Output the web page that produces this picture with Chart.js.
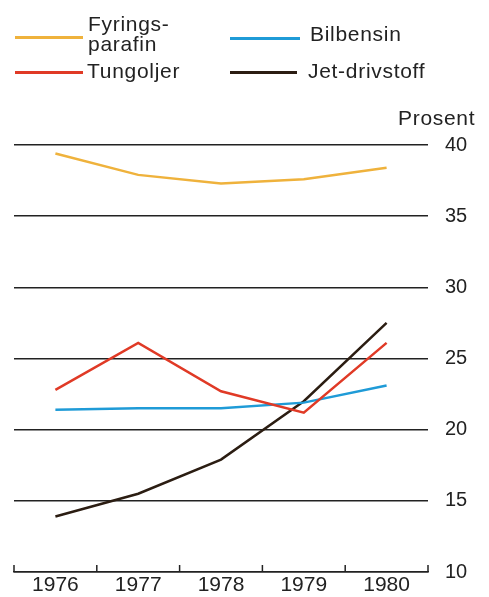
<!DOCTYPE html>
<html>
<head>
<meta charset="utf-8">
<script src="https://cdn.jsdelivr.net/npm/chart.js@4"></script>
<style>
  body { margin: 0; background: #fff; }
  #wrap { position: relative; width: 489px; height: 597px; font-family: "Liberation Sans", Arial, sans-serif; color: #222; }
  canvas { position: absolute; left: 0; top: 0; }
  .lg { position: absolute; font-size: 21px; line-height: 20px; letter-spacing: 0.7px; }
  .sw { position: absolute; height: 3px; }
</style>
</head>
<body>
<div id="wrap">
  <canvas id="myChart" width="489" height="597"></canvas>
  <!-- legend, plain html -->
  <div class="sw" style="left:15px;top:36px;width:68px;background:#efb23c"></div>
  <div class="lg" style="left:88px;top:14px">Fyrings-<br>parafin</div>
  <div class="sw" style="left:230px;top:37px;width:70px;background:#1f9bd7"></div>
  <div class="lg" style="left:310px;top:24px">Bilbensin</div>
  <div class="sw" style="left:15px;top:71px;width:68px;background:#e03a26"></div>
  <div class="lg" style="left:87px;top:61px">Tungoljer</div>
  <div class="sw" style="left:230px;top:71px;width:67px;background:#2b1d12"></div>
  <div class="lg" style="left:308px;top:61px">Jet-drivstoff</div>
  <div class="lg" style="left:398px;top:108px">Prosent</div>
</div>
<script>
// Årstall og verdier (prosent)
const aar = ['1976', '1977', '1978', '1979', '1980'];
const fyringsparafin = [39.4, 37.9, 37.3, 37.6, 38.4];
const tungoljer = [22.8, 26.1, 22.7, 21.2, 26.1];
const bilbensin = [21.4, 21.5, 21.5, 21.9, 23.1];
const jetdrivstoff = [13.9, 15.5, 17.9, 22.0, 27.5];
const yTicks = [10, 15, 20, 25, 30, 35, 40];

// små tick-streker oppover fra x-aksen, mellom årene
const xTicksOpp = {
    id: 'xTicksOpp',
    afterDraw(chart) {
        const x = chart.scales.x;
        const ctx = chart.ctx;
        const bunn = chart.chartArea.bottom;
        const halv = (x.getPixelForValue(1) - x.getPixelForValue(0)) / 2;
        ctx.save();
        ctx.strokeStyle = '#222';
        ctx.lineWidth = 1.5;
        for (let i = 0; i <= aar.length; i++) {
            const px = x.getPixelForValue(i) - halv;
            ctx.beginPath();
            ctx.moveTo(px, bunn);
            ctx.lineTo(px, bunn - 7);
            ctx.stroke();
        }
        ctx.restore();
    }
};

function lag(label, data, farge) {
    return { label, data, borderColor: farge, backgroundColor: farge, borderWidth: 2.5, pointRadius: 0, tension: 0 };
}

const ctx = document.getElementById('myChart').getContext('2d');
const myChart = new Chart(ctx, {
    type: 'line',
    data: {
        labels: aar,
        datasets: [
            lag('Fyringsparafin', fyringsparafin, '#efb23c'),
            lag('Tungoljer', tungoljer, '#e03a26'),
            lag('Bilbensin', bilbensin, '#1f9bd7'),
            lag('Jet-drivstoff', jetdrivstoff, '#2b1d12')
        ]
    },
    options: {
        responsive: false,
        animation: false,
        layout: { padding: { left: 14, top: 145, right: 0, bottom: 0 } },
        plugins: { legend: { display: false }, tooltip: { enabled: false } },
        scales: {
            x: {
                offset: true,
                grid: { display: false, drawTicks: false },
                border: { display: true, color: '#222', width: 1.5 },
                ticks: { color: '#222', font: { family: 'Liberation Sans', size: 21 }, padding: 1, maxRotation: 0 },
                afterFit(scale) { scale.height = 25; }
            },
            y: {
                position: 'right',
                min: 10,
                max: 40,
                afterBuildTicks(scale) { scale.ticks = yTicks.map(v => ({ value: v })); },
                grid: { color: '#222', lineWidth: 1.5, drawTicks: false },
                border: { display: false },
                ticks: { color: '#222', font: { family: 'Liberation Sans', size: 20 }, padding: 17 },
                afterFit(scale) { scale.width = 61; scale.paddingTop = 0; scale.paddingBottom = 0; }
            }
        }
    },
    plugins: [xTicksOpp]
});
</script>
</body>
</html>
